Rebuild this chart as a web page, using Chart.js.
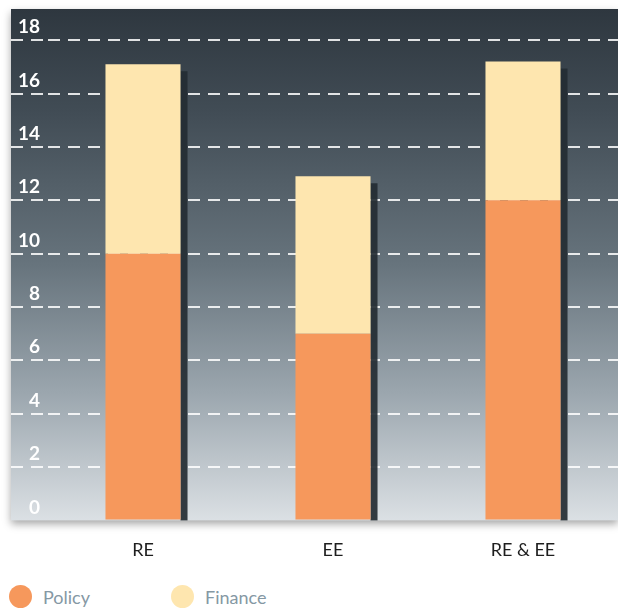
<!DOCTYPE html>
<html>
<head>
<meta charset="utf-8">
<title>Policy and finance</title>
<script src="https://cdn.jsdelivr.net/npm/chart.js@4.4.0/dist/chart.umd.min.js"></script>
<style>
  body { margin: 0; background: #fff; }
  #wrap { position: relative; width: 618px; height: 610px; }
  #chart { position: absolute; left: 0; top: 0; }
  #legend { position: absolute; left: 9px; top: 585px; display: flex; font-family: Lato, sans-serif; font-size: 18px; color: #8598a4; }
  #legend .item { display: flex; align-items: center; width: 162px; }
  #legend .dot { width: 23px; height: 23px; border-radius: 50%; margin-right: 11px; }
</style>
</head>
<body>
<div id="wrap">
  <canvas id="chart" width="618" height="582"></canvas>
  <div id="legend"></div>
</div>
<script>
var categories = ["RE", "EE", "RE & EE"];
var seriesNames = ["Policy", "Finance"];
var policy = [10, 7, 12];
var finance = [7.1, 5.9, 5.2];
var seriesColors = ["#f6985c", "#fee6af"];
var yTicks = [0, 2, 4, 6, 8, 10, 12, 14, 16, 18];

// gradient panel behind the plot, with a soft drop shadow
var panel = {
    id: "panel",
    beforeDraw: function(chart) {
        var ctx = chart.ctx;
        var a = chart.chartArea;
        var left = chart.scales.y.left;
        ctx.save();
        var g = ctx.createLinearGradient(0, a.top, 0, a.bottom);
        g.addColorStop(0, "#2e373f");
        g.addColorStop(0.2, "#414c55");
        g.addColorStop(0.5, "#67747d");
        g.addColorStop(0.75, "#9ba6ae");
        g.addColorStop(1, "#dbe0e4");
        ctx.shadowColor = "rgba(0,0,0,0.35)";
        ctx.shadowBlur = 8;
        ctx.shadowOffsetY = 4;
        ctx.fillStyle = g;
        ctx.fillRect(left, a.top, a.right - left, a.bottom - a.top);
        ctx.restore();
    }
};

// dark band on the right of each stacked column
var barShadow = {
    id: "barShadow",
    beforeDatasetsDraw: function(chart) {
        var ctx = chart.ctx;
        var topMeta = chart.getDatasetMeta(chart.data.datasets.length - 1);
        var base = chart.scales.y.getPixelForValue(0);
        ctx.save();
        ctx.fillStyle = "rgba(36,44,51,0.92)";
        topMeta.data.forEach(function(bar) {
            var p = bar.getProps(["x", "y", "width"], true);
            ctx.fillRect(p.x + p.width / 2, p.y + 7, 7, base - p.y - 7);
        });
        ctx.restore();
    }
};

var datasets = [policy, finance].map(function(values, i) {
    return {
        label: seriesNames[i],
        data: values,
        backgroundColor: seriesColors[i],
        borderWidth: 0,
        categoryPercentage: 1,
        barPercentage: 0.395
    };
});

function gridColor(c) {
    return c.tick && c.tick.value === 0 ? "rgba(0,0,0,0)" : "rgba(255,255,255,0.85)";
}

new Chart(document.getElementById("chart").getContext("2d"), {
    type: "bar",
    data: { labels: categories, datasets: datasets },
    options: {
        responsive: false,
        animation: false,
        layout: { padding: { left: 11, top: 9, right: 0, bottom: 2 } },
        plugins: {
            legend: { display: false },
            tooltip: { enabled: false }
        },
        scales: {
            x: {
                stacked: true,
                grid: { display: false, drawTicks: false },
                border: { display: false },
                ticks: {
                    padding: 19,
                    color: "#1e1e1e",
                    font: { family: "Lato", size: 18 }
                }
            },
            y: {
                stacked: true,
                min: 0,
                max: 19.17,
                afterFit: function(s) {
                    s.width = 37;
                    s.paddingTop = 0;
                    s.paddingBottom = 0;
                },
                afterBuildTicks: function(s) {
                    s.ticks = yTicks.map(function(v) { return { value: v }; });
                },
                grid: {
                    color: gridColor,
                    lineWidth: 2,
                    tickLength: 37,
                    tickColor: gridColor,
                    tickWidth: 2,
                    tickBorderDash: [12, 8]
                },
                border: { display: false, dash: [12, 8] },
                ticks: {
                    padding: -29,
                    labelOffset: -13,
                    color: "#ffffff",
                    font: { family: "Lato", size: 19, weight: "bold" }
                }
            }
        }
    },
    plugins: [panel, barShadow]
});

// legend below the chart
var legend = document.getElementById("legend");
seriesNames.forEach(function(name, i) {
    var item = document.createElement("div");
    item.className = "item";
    var dot = document.createElement("span");
    dot.className = "dot";
    dot.style.background = seriesColors[i];
    item.appendChild(dot);
    item.appendChild(document.createTextNode(name));
    legend.appendChild(item);
});
</script>
</body>
</html>
